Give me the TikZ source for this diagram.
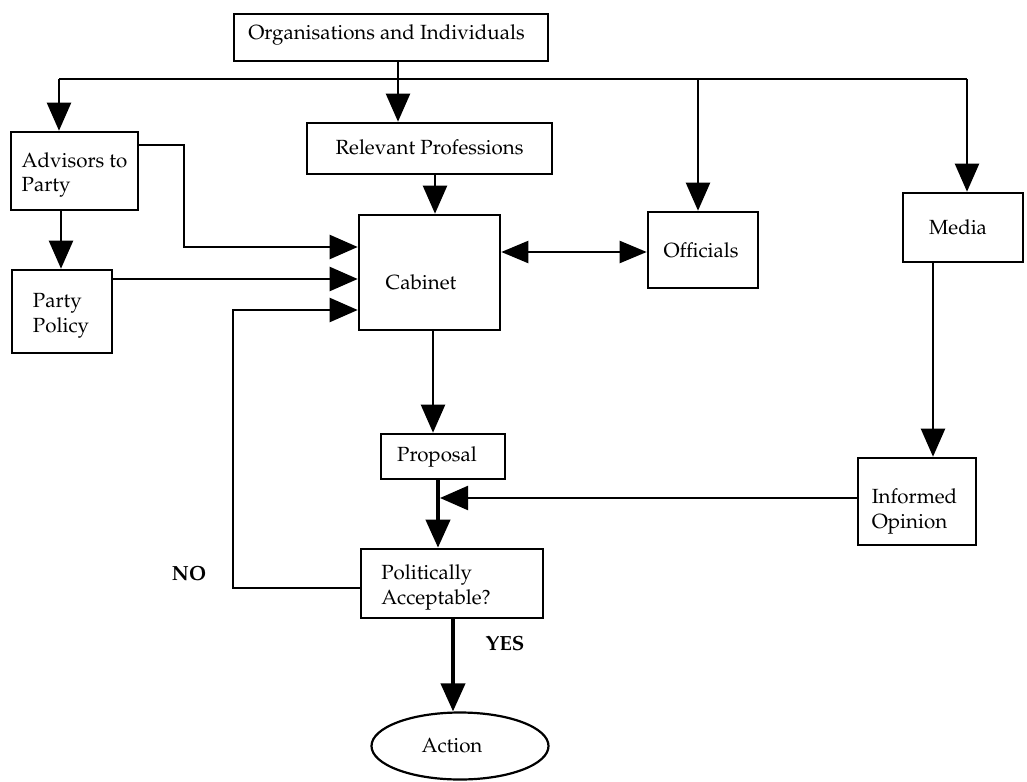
\documentclass[tikz,border=0pt]{standalone}
\usepackage[T1]{fontenc}
\usepackage{mathpazo}
\usetikzlibrary{arrows.meta,fit,shapes.geometric}
\begin{document}
\begin{tikzpicture}[x=1pt,y=-1pt,
  font=\fontsize{20.5}{24.5}\selectfont,
  box/.style={draw, line width=2.6pt, inner sep=0pt},
  every label/.style={align=left, inner sep=0pt},
  conn/.style={line width=2.2pt},
  tip/.style={-{Triangle[length=28pt,width=24pt]}},
  arr/.style={conn, tip},
  thickarr/.style={line width=4pt, tip},
  lbl/.style={font=\fontsize{20.5}{24}\selectfont\bfseries}]
\fill[white] (0,0) rectangle (1027,781);
\useasboundingbox (0,0) rectangle (1027,781);

% boxes
\node[box, fit={(234,14) (548,61)}, label={[xshift=-4.5pt,yshift=2.5pt]center:Organisations and Individuals}] (org) {};
\node[box, fit={(11,132) (138,210)}, label={[yshift=-4pt]center:{Advisors to\\Party}}] (adv) {};
\node[box, fit={(307,123) (552,174)}, label={[yshift=1.5pt]center:Relevant Professions}] (rel) {};
\node[box, fit={(359,215) (500,330)}, label={[xshift=-8.5pt,yshift=-9.5pt]center:Cabinet}] (cab) {};
\node[box, fit={(648,212) (758,288)}, label={[xshift=-2pt]center:Officials}] (off) {};
\node[box, fit={(903,193) (1023,262)}, label={[xshift=-5pt]center:Media}] (med) {};
\node[box, fit={(12,270) (112,353)}, label={[xshift=-1pt,yshift=-4.5pt]center:{Party\\Policy}}] (pol) {};
\node[box, fit={(381,434) (505,479)}, label={[xshift=-6pt]center:Proposal}] (prop) {};
\node[box, fit={(858,458) (976,545)}, label={[xshift=-2.5pt,yshift=-10pt]center:{Informed\\Opinion}}] (inf) {};
\node[box, fit={(361,549) (543,618)}, label={[xshift=-16pt,yshift=-4pt]center:{Politically\\Acceptable?}}] (pa) {};
\node[draw, ellipse, line width=2.2pt, minimum width=177pt, minimum height=67pt, inner sep=0pt,
      label={[xshift=-8pt]center:Action}] (act) at (460,746) {};

% labels
\node[lbl] (no) at (189,573) {NO};
\node[lbl] (yes) at (505,643) {YES};

% distribution line
\coordinate (hl) at (59,79);
\coordinate (hr) at (967,79);
\coordinate (jr) at (398,79);
\coordinate (jo) at (698,79);
\draw[conn] (hl) -- (hr);
\draw[conn] (jr |- org.south) -- (jr);
\draw[arr] (hl) -- (hl |- adv.north);
\draw[arr] (jr) -- (jr |- rel.north);
\draw[arr] (jo) -- (jo |- off.north);
\draw[arr] (hr) -- (hr |- med.north);

% into cabinet
\coordinate (a1) at (184,145);
\coordinate (a2) at (184,247);
\draw[arr] (a1 -| adv.east) -- (a1) -- (a2) -- (a2 -| cab.west);
\coordinate (pp) at (61,0);
\draw[arr] (pp |- adv.south) -- (pp |- pol.north);
\coordinate (p1) at (0,279);
\draw[arr] (p1 -| pol.east) -- (p1 -| cab.west);
\coordinate (rc) at (435,0);
\draw[arr] (rc |- rel.south) -- (rc |- cab.north);
\coordinate (co) at (0,252);
\draw[conn, {Triangle[length=27pt,width=22pt]}-{Triangle[length=27pt,width=22pt]}] (co -| cab.east) -- (co -| off.west);

% lower flow
\coordinate (cp) at (433,0);
\draw[arr] (cp |- cab.south) -- (cp |- prop.north);
\coordinate (pa1) at (438,0);
\draw[thickarr] (pa1 |- prop.south) -- (pa1 |- pa.north);
\coordinate (j2) at (440,498);
\draw[arr] (j2 -| inf.west) -- (j2);
\coordinate (mi) at (933,0);
\draw[arr] (mi |- med.south) -- (mi |- inf.north);
\coordinate (n1) at (233,588);
\coordinate (n2) at (233,310);
\draw[arr] (n1 -| pa.west) -- (n1) -- (n2) -- (n2 -| cab.west);
\coordinate (ya) at (453,0);
\draw[thickarr] (ya |- pa.south) -- (ya |- act.north);
\end{tikzpicture}
\end{document}
